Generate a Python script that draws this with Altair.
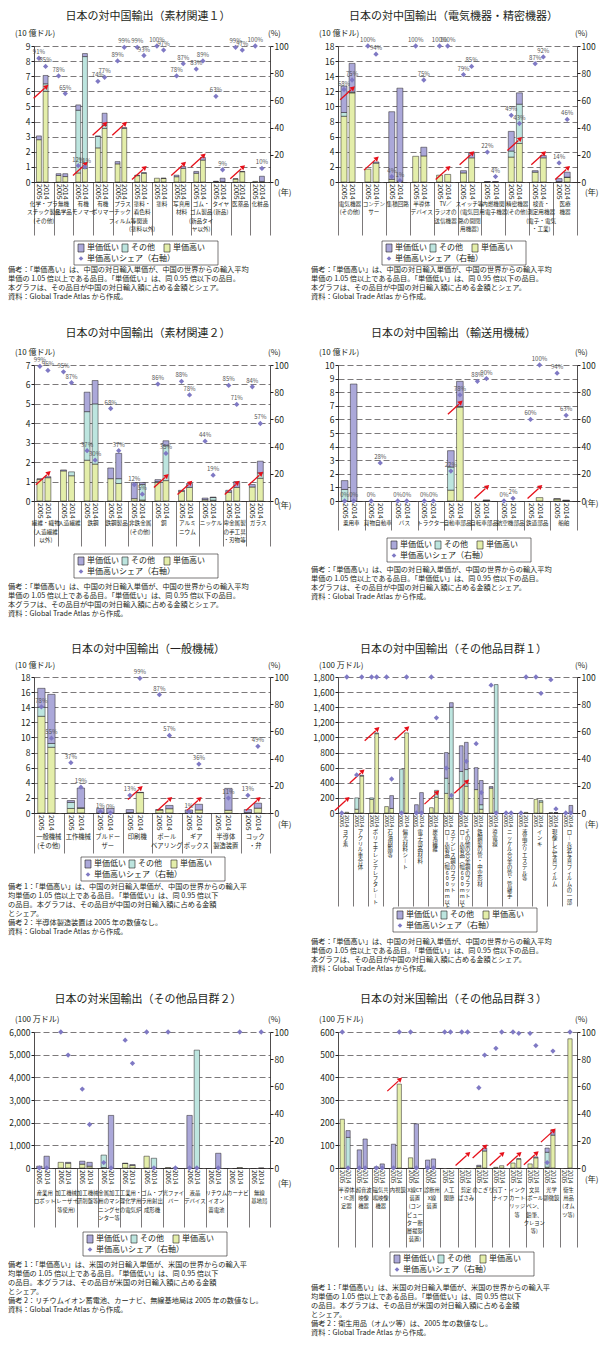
import altair as alt
import pandas as pd

FONT = "Noto Sans CJK JP"
C_HIGH, C_OTH, C_LOW = "#e4eeaa", "#bde5df", "#aba8d9"
C_PT = "#7f79c4"
C_ARR = "#e60f19"
INK = "#231f20"
YEARS = ["2005", "2014"]

# ---------------- Panel 1: 素材関連1 (10億ドル) ----------------
P1_CATS = ["化学・プラ\nスチック製品\n(その他)", "無機\n化学品", "有機\nモノマー", "有機\nポリマー", "プラス\nチック\nフィルム等",
           "塗料・\n着色料\n関連\n(塗料以外)", "塗料", "写真用\n材料", "ゴム・\nゴム製品\n(新品タイ\nヤ以外)", "タイヤ\n(新品)", "医薬品", "化粧品"]
P1_H05 = [2.8, 0.43, 0.6, 2.26, 1.2, 0.42, 0.25, 0.35, 0.58, 0.03, 0.2, 0.04]
P1_O05 = [0, 0, 4.15, 0.75, 0, 0, 0, 0, 0, 0, 0, 0]
P1_L05 = [0.25, 0.12, 0.35, 0.04, 0.15, 0.03, 0, 0.1, 0.12, 0.02, 0.01, 0]
P1_S05 = [91, 78, 12, 74, 89, 99, 100, 78, 83, 63, 99, 100]
P1_H14 = [6.0, 0.36, 0.9, 3.55, 3.55, 0.58, 0.24, 0.9, 1.45, 0.02, 0.68, 0.04]
P1_O14 = [0.5, 0, 7.4, 0.2, 0, 0, 0, 0, 0, 0, 0, 0]
P1_L14 = [0.55, 0.19, 0.2, 0.8, 0.05, 0.04, 0.01, 0.12, 0.17, 0.23, 0.02, 0.34]
P1_S14 = [85, 65, 11, 77, 99, 93, 97, 87, 89, 9, 97, 10]
P1_ARROW = [1, 0, 1, 1, 1, 1, 0, 1, 1, 0, 1, 0]

# ---------------- Panel 2: 電気機器・精密機器 (10億ドル) ----------------
P2_CATS = ["電気機器\n(その他)", "コンデン\nサー", "集積回路", "半導体\nデバイス", "TV／\nラジオの\n送信機器",
           "スイッチ等\n(電気回\n路の開閉\n用機器)", "内燃機関\n用電子機器", "精密機器\n(その他)", "検査・\n測定用機器\n(電子・電気\n・工業)", "医療\n機器"]
P2_H05 = [8.7, 1.7, 0.35, 3.4, 0.9, 1.2, 0.01, 3.3, 1.3, 0.06]
P2_O05 = [0.5, 0, 0, 0, 0, 0, 0, 0.8, 0, 0]
P2_L05 = [3.5, 0, 8.95, 0, 0, 0.3, 0.04, 2.6, 0.2, 0.39]
P2_S05 = [68, 100, 4, 100, 100, 79, 22, 49, 87, 14]
P2_H14 = [11.8, 2.5, 0.12, 3.45, 1.0, 3.2, 0.001, 5.1, 3.2, 0.6]
P2_O14 = [0.1, 0, 0, 0, 0, 0, 0, 5.2, 0, 0.05]
P2_L14 = [3.8, 0.15, 12.3, 1.15, 0, 0.6, 0.02, 1.5, 0.3, 0.65]
P2_S14 = [75, 94, 1, 75, 100, 85, 4, 43, 92, 46]
P2_ARROW = [1, 1, 0, 0, 1, 1, 0, 1, 1, 1]

# ---------------- Panel 3: 素材関連2 (10億ドル) ----------------
P3_CATS = ["繊維・織物\n(人造繊維\n以外)", "人造繊維", "鉄鋼", "鉄鋼製品", "非鉄金属\n(その他)", "銅", "アルミ\nニウム", "ニッケル",
           "卑金属製\nの手工具\n・刃物等", "ガラス"]
P3_H05 = [1.12, 1.55, 2.1, 1.15, 0.12, 0.95, 0.5, 0.07, 0.45, 0.72]
P3_O05 = [0, 0, 2.5, 0, 0, 0.05, 0, 0, 0, 0]
P3_L05 = [0.02, 0.05, 1.0, 0.55, 0.83, 0.1, 0.05, 0.08, 0.1, 0.13]
P3_S05 = [99, 95, 37, 68, 12, 86, 88, 44, 85, 84]
P3_H14 = [1.2, 1.3, 1.9, 0.9, 0.05, 1.05, 0.7, 0.04, 0.7, 1.17]
P3_O14 = [0, 0.2, 3.1, 0.25, 0.8, 1.8, 0, 0.14, 0, 0.28]
P3_L14 = [0.05, 0, 1.2, 1.3, 0.1, 0.25, 0.2, 0.02, 0.3, 0.6]
P3_S14 = [96, 87, 30, 37, 5, 35, 78, 19, 71, 57]
P3_ARROW = [1, 0, 0, 0, 0, 1, 1, 0, 1, 1]

# ---------------- Panel 4: 輸送用機械 (10億ドル) ----------------
P4_CATS = ["乗用車", "貨物自動車", "バス", "トラクター", "自動車部品", "自転車部品", "航空機部品", "鉄道部品", "船舶"]
P4_H05 = [0, 0, 0, 0, 0.8, 0, 0, 0, 0.15]
P4_O05 = [0.85, 0, 0, 0, 1.7, 0, 0, 0, 0]
P4_L05 = [0.65, 0, 0, 0, 1.2, 0, 0, 0, 0.01]
P4_S05 = [0, 0, 0, 0, 22, 88, 0, 60, 94]
P4_H14 = [0, 0, 0, 0, 6.9, 0.05, 0, 0.25, 0.04]
P4_O14 = [0, 0, 0, 0, 0.05, 0, 0, 0, 0]
P4_L14 = [8.6, 0, 0, 0, 1.85, 0.01, 0, 0, 0.02]
P4_S14 = [0, 28, 0, 0, 78, 90, 2, 100, 63]
P4_ARROW = [0, 0, 0, 0, 1, 1, 0, 1, 0]

# ---------------- Panel 5: 一般機械 (10億ドル) ----------------
P5_CATS = ["一般機械\n(その他)", "工作機械", "ブルドー\nザー", "印刷機", "ボール\nベアリング", "ギア\nボックス", "半導体\n製造装置", "コック\n・弁"]
P5_H05 = [12.8, 0.6, 0.006, 0.06, 0.39, 0.004, None, 0.06]
P5_O05 = [1.2, 0.8, 0, 0, 0, 0, None, 0]
P5_L05 = [2.5, 0.25, 0.59, 0.39, 0.06, 0.4, None, 0.39]
P5_S05 = [78, 37, 1, 13, 87, 1, None, 13]
P5_H14 = [8.7, 0.6, 0, 2.7, 0.57, 0.41, 0.36, 0.64]
P5_O14 = [0.5, 0.1, 0, 0, 0, 0, 0, 0]
P5_L14 = [6.5, 2.6, 0.6, 0.03, 0.43, 0.74, 2.9, 0.66]
P5_S14 = [55, 19, 0, 99, 57, 36, 11, 49]
P5_ARROW = [0, 0, 0, 1, 1, 1, 0, 1]

# ---------------- Panel 6: その他品目群1 (100万ドル) ----------------
P6_CATS = ["ヨウ素", "アクリル重合体", "ポリエチレンテレフタレート", "石油樹脂等", "偏光材料シート", "電子部品材料", "炭素繊維",
           "ステンレス鋼のフラット|ロール製品（幅600mm以上）", "その他の合金鋼のフラット|ロール製品（幅600mm以上）",
           "鉄鋼製の管・中空形材", "導電線", "ニッケル合金の管・管継手", "液晶ポリエステル等", "インキ", "現像した写真フィルム",
           "ロール状写真フィルムの一部"]
P6_H05 = [0, 50, 180, 85, 0, 0, 70, 260, 0, 310, 330, 0, 0, 180, 5, 0]
P6_O05 = [0, 150, 20, 0, 580, 0, 0, 200, 550, 0, 0, 0, 0, 0, 0, 0]
P6_L05 = [0, 0, 0, 0, 0, 110, 0, 340, 340, 290, 20, 0, 0, 0, 0, 0]
P6_S05 = [0, 28, 100, 100, 0, 0, 100, 33, 0, 51, 94, 0, 0, 100, 98, 0]
P6_H14 = [10, 490, 1050, 60, 1060, 0, 210, 190, 355, 50, 0, 0, 8, 145, 0.2, 0]
P6_O14 = [0, 0, 10, 0, 0, 0, 90, 1210, 220, 60, 1700, 0, 0, 20, 0, 0]
P6_L14 = [0, 10, 0, 170, 0, 270, 0, 60, 360, 320, 0, 0, 0, 0, 5, 100]
P6_S14 = [100, 100, 100, 25, 100, 0, 70, 13, 38, 15, 0, 0, 100, 88, 3, 0]
P6_ARROW = [1, 1, 1, 0, 1, 0, 1, 0, 1, 0, 0, 0, 0, 0, 0, 0]

# ---------------- Panel 7: 対米国 その他品目群2 (100万ドル) ----------------
P7_CATS = ["産業用\nロボット", "加工機械\n(レーザー\n等使用)", "加工機械\n(研削盤等)", "金属加工\n用のマシ\nニングセ\nンター等",
           "工業用・\n理化学用\nの電気炉", "ゴム・プ\nラ用射出\n成形機", "光ファイ\nバー", "液晶\nデバイス", "リチウム\nイオン\n蓄電池",
           "カーナビ", "無線\n基地局"]
P7_H05 = [0, 250, 170, 20, 200, 520, 20, 0, None, None, None]
P7_O05 = [0, 0, 0, 550, 0, 0, 0, 0, None, None, None]
P7_L05 = [80, 0, 130, 0, 10, 0, 0, 2320, None, None, None]
P7_S05 = [0, 100, 58, 4, 94, 100, 100, 0, None, None, None]
P7_H14 = [0, 210, 80, 0, 115, 0, 0, 0, 0, 20, 1]
P7_O14 = [0, 0, 0, 0, 0, 430, 0, 5200, 0, 0, 0]
P7_L14 = [520, 40, 170, 2320, 35, 0, 2, 0, 650, 0, 0]
P7_S14 = [0, 83, 32, 0, 77, 0, 0, 0, 0, 100, 100]
P7_ARROW = [0] * 11

# ---------------- Panel 8: 対米国 その他品目群3 (100万ドル) ----------------
P8_CATS = ["半導体\n・IC測\n定器", "超音波\n映像\n機器", "磁気共\n鳴映像\n機器", "内視鏡",
           "X線CT\n装置\n(コン\nピュー\nター断\n層撮影\n装置)", "診断用\nX線\n装置", "人工\n関節", "剪定\nばさみ",
           "のこぎり", "包丁・\nナイフ", "インク\nカート\nリッジ\n等", "文具\n(ボール\nペン、\n鉛筆、\nクレヨン\n等)",
           "光学\n顕微鏡", "衛生\n用品\n(オム\nツ等)"]
P8_H05 = [215, 0, 0, 0, 45, 0, 0, 0, 7, 3, 22, 18, 3.5, None]
P8_O05 = [0, 0, 0, 0, 0, 0, 0, 0, 0, 0, 0, 0, 66, None]
P8_L05 = [0, 80, 5, 105, 0, 35, 0, 0, 5, 0, 0, 0, 18.5, None]
P8_S05 = [100, 0, 0, 0, 100, 0, 100, 100, 59, 88, 100, 99, 4, None]
P8_H14 = [0, 0, 0, 370, 0, 0, 0, 0, 75, 10, 40, 45, 145, 570]
P8_O14 = [135, 0, 0, 0, 0, 0, 0, 0, 0, 0, 0, 0, 0, 0]
P8_L14 = [30, 128, 18, 0, 195, 40, 0, 0, 13, 0, 0.5, 4, 23, 0]
P8_S14 = [0, 0, 0, 100, 0, 0, 100, 100, 83, 100, 99, 90, 86, 100]
P8_ARROW = [0, 0, 0, 1, 0, 0, 0, 1, 1, 1, 1, 1, 1, 0]

# ---------------- texts ----------------
NOTE_CN = ("備考：「単価高い」は、中国の対日輸入単価が、中国の世界からの輸入平均\n"
           "　　　単価の 1.05 倍以上である品目。「単価低い」は、同 0.95 倍以下の品目。\n"
           "　　　本グラフは、その品目が中国の対日輸入額に占める金額とシェア。\n"
           "資料：Global Trade Atlas から作成。")
NOTE_P5 = ("備考 1：「単価高い」は、中国の対日輸入単価が、中国の世界からの輸入平\n"
           "　　　　均単価の 1.05 倍以上である品目。「単価低い」は、同 0.95 倍以下\n"
           "　　　　の品目。本グラフは、その品目が中国の対日輸入額に占める金額\n"
           "　　　　とシェア。\n"
           "備考 2：半導体製造装置は 2005 年の数値なし。\n"
           "資料：Global Trade Atlas から作成。")
NOTE_US = ("備考 1：「単価高い」は、米国の対日輸入単価が、米国の世界からの輸入平\n"
           "　　　　均単価の 1.05 倍以上である品目。「単価低い」は、同 0.95 倍以下\n"
           "　　　　の品目。本グラフは、その品目が米国の対日輸入額に占める金額\n"
           "　　　　とシェア。\n")
NOTE_P7 = NOTE_US + "備考 2：リチウムイオン蓄電池、カーナビ、無線基地局は 2005 年の数値なし。\n資料：Global Trade Atlas から作成。"
NOTE_P8 = NOTE_US + "備考 2：衛生用品（オムツ等）は、2005 年の数値なし。\n資料：Global Trade Atlas から作成。"

# ---------------- layout ----------------
H = 136
WL, WR = 236, 239
C05, C14, BW = 0.25, 0.59, 0.25
ONE = pd.DataFrame({"k": [0]})
VERT = {"（": "︵", "）": "︶", "ー": "︱"}
XC = f"datum.ci + (datum.yi == 0 ? {C05} : {C14})"


def txt(s, x, y, size=8.0, align="left", baseline="middle", lh=None, color=INK, **kw):
    props = dict(text=s, align=align, baseline=baseline, fontSize=size, color=color)
    if lh:
        props.update(lineBreak="\n", lineHeight=lh)
    props.update(kw)
    return alt.Chart(ONE).mark_text(**props).encode(x=alt.value(x), y=alt.value(y))


def box(x0, x1, y0, y1, fill, sw=0.6):
    return alt.Chart(ONE).mark_rect(fill=fill, stroke=INK, strokeWidth=sw).encode(
        x=alt.value(x0), x2=alt.value(x1), y=alt.value(y0), y2=alt.value(y1))


def legend(lx, ly):
    out = [box(lx, lx + 144, ly, ly + 24, "white")]
    r1, r2 = ly + 7, ly + 17.5
    for lab, col, dx in [("単価低い", C_LOW, 4), ("その他", C_OTH, 48), ("単価高い", C_HIGH, 90)]:
        out.append(box(lx + dx, lx + dx + 6, r1 - 4, r1 + 4, col))
        out.append(txt(lab, lx + dx + 9, r1, size=8))
    out.append(alt.Chart(ONE).mark_point(shape="diamond", filled=True, size=22, color=C_PT, opacity=1).encode(
        x=alt.value(lx + 7), y=alt.value(r2)))
    out.append(txt("単価高いシェア（右軸）", lx + 13, r2, size=8))
    return out


def make_panel(cfg):
    cats = cfg["cats"]
    n = len(cats)
    W = cfg["W"]
    ymax = cfg["ymax"]
    series = [(cfg["h05"], cfg["o05"], cfg["l05"], cfg["s05"]),
              (cfg["h14"], cfg["o14"], cfg["l14"], cfg["s14"])]
    bar_rows, pt_rows, yr_rows, cat_rows, arr_rows = [], [], [], [], []
    for i in range(n):
        for yi, (hh, oo, ll, ss) in enumerate(series):
            yr_rows.append(dict(ci=i, yi=yi, yr=YEARS[yi]))
            for seg, arr in enumerate((hh, oo, ll)):
                v = arr[i]
                if v is not None and v > 0:
                    bar_rows.append(dict(ci=i, yi=yi, seg=seg, value=v))
            if ss[i] is not None:
                pt_rows.append(dict(ci=i, yi=yi, share=ss[i]))
        if cfg["arrow"][i]:
            arr_rows.append(dict(ci=i, yi=1, h=cfg["h14"][i] or 0))
        if cfg.get("vertical"):
            cols = cats[i].split("|")
            m = len(cols)
            for k, col in enumerate(cols):
                s = "\n".join(VERT.get(c, c) for c in col)
                cat_rows.append(dict(ci=i, dx=(m - 1 - 2 * k) * 0.19, label=s))
        else:
            cat_rows.append(dict(ci=i, dx=0.0, label=cats[i]))

    xs = alt.Scale(domain=[0, n], nice=False, zero=False)
    xax = alt.Axis(values=list(range(n + 1)), labels=False, tickSize=cfg["tick"], tickColor=INK, tickWidth=0.6,
                   domainColor=INK, domainWidth=0.8, grid=False, title=None)

    def ysc():
        return alt.Scale(domain=[0, ymax], nice=False)

    yax = alt.Axis(values=list(range(0, ymax + 1, cfg["step"])), format=",d", grid=True, gridDash=[6, 3],
                   gridColor=INK, gridWidth=0.6, tickSize=3, tickColor=INK, domainColor=INK, domainWidth=0.8,
                   labelFontSize=8.5, labelPadding=1, labelColor=INK, title=None)
    rax = alt.Axis(orient="right", values=[0, 20, 40, 60, 80, 100], grid=False, tickSize=3, tickColor=INK,
                   domainColor=INK, domainWidth=0.8, labelFontSize=8.5, labelPadding=1, labelColor=INK, title=None)

    def rsc():
        return alt.Scale(domain=[0, 100], nice=False)

    bars = alt.Chart(pd.DataFrame(bar_rows)).transform_calculate(xc=XC).transform_calculate(
        xa=f"datum.xc - {BW / 2}", xb=f"datum.xc + {BW / 2}"
    ).transform_stack(
        as_=["v0", "v1"], stack="value", groupby=["ci", "yi"], sort=[alt.SortField(field="seg", order="ascending")]
    ).mark_bar(stroke=INK, strokeWidth=0.5).encode(
        x=alt.X("xa:Q", scale=xs, axis=xax), x2="xb:Q",
        y=alt.Y("v0:Q", scale=ysc(), axis=yax), y2="v1:Q",
        fill=alt.Fill("seg:N", scale=alt.Scale(domain=[0, 1, 2], range=[C_HIGH, C_OTH, C_LOW]), legend=None),
    )
    layers = [bars]

    if arr_rows:
        adf = pd.DataFrame(arr_rows)
        base = alt.Chart(adf).transform_calculate(xc=XC, ya=f"max(datum.h, {ymax * 0.07})")
        layers.append(base.mark_rule(color=C_ARR, strokeWidth=1.3, xOffset=-12, yOffset=7, x2Offset=-1,
                                     y2Offset=-3).encode(
            x=alt.X("xc:Q", scale=xs, axis=xax), x2="xc:Q",
            y=alt.Y("ya:Q", scale=ysc(), axis=None), y2="ya:Q"))
        layers.append(base.mark_point(shape="triangle-up", filled=True, size=30, angle=48, color=C_ARR, opacity=1,
                                      xOffset=1, yOffset=-5).encode(
            x=alt.X("xc:Q", scale=xs, axis=xax), y=alt.Y("ya:Q", scale=ysc(), axis=None)))

    pdf = pd.DataFrame(pt_rows)
    pbase = alt.Chart(pdf).transform_calculate(xc=XC, lab="datum.share + '%'")
    layers.append(pbase.mark_point(shape="diamond", filled=True, size=28, color=C_PT, opacity=1).encode(
        x=alt.X("xc:Q", scale=xs, axis=xax), y=alt.Y("share:Q", scale=rsc(), axis=rax)))
    if cfg.get("labels"):
        layers.append(pbase.mark_text(dy=-6, fontSize=6, color="#555555").encode(
            x=alt.X("xc:Q", scale=xs, axis=xax), y=alt.Y("share:Q", scale=rsc(), axis=None), text="lab:N"))

    layers.append(alt.Chart(pd.DataFrame(yr_rows)).transform_calculate(xc=XC).mark_text(
        angle=90, align="left", baseline="middle", fontSize=cfg["yr_fs"], color=INK).encode(
        x=alt.X("xc:Q", scale=xs, axis=xax), y=alt.value(H + 2), text="yr:N"))

    layers.append(alt.Chart(pd.DataFrame(cat_rows)).transform_calculate(xm="datum.ci + 0.5 + datum.dx").mark_text(
        align="center", baseline="top", fontSize=cfg["cat_fs"], lineHeight=cfg["cat_lh"], lineBreak="\n",
        color=INK).encode(
        x=alt.X("xm:Q", scale=xs, axis=xax), y=alt.value(cfg["cat_y"]), text="label:N"))

    # titles, units, legend, notes
    layers.append(txt(cfg["title"], W / 2 - 4, cfg["title_y"], size=11, align="center"))
    layers.append(txt(cfg["unit"], -19, cfg["unit_y"], size=8))
    layers.append(txt("(%)", W - 2, cfg["unit_y"], size=8))
    layers.append(txt("(年)", W + 8, cfg["nen_y"], size=8))
    layers += legend(cfg["leg_x"], cfg["leg_y"])
    layers.append(txt(cfg["notes"], cfg["note_x"], cfg["note_y"], size=7.2, baseline="top", lh=9))

    return alt.layer(*layers).resolve_scale(y="independent").properties(width=W, height=H)


def cfg_of(prefix, **kw):
    g = globals()
    d = dict(cats=g[prefix + "_CATS"], h05=g[prefix + "_H05"], o05=g[prefix + "_O05"], l05=g[prefix + "_L05"],
             s05=g[prefix + "_S05"], h14=g[prefix + "_H14"], o14=g[prefix + "_O14"], l14=g[prefix + "_L14"],
             s14=g[prefix + "_S14"], arrow=g[prefix + "_ARROW"])
    d.update(kw)
    return d


U10 = "(10 億ドル)"
U100 = "(100 万ドル)"
p1 = make_panel(cfg_of("P1", W=WL, ymax=9, step=1, tick=53, cat_y=156, cat_fs=5.6, cat_lh=8.3, yr_fs=7,
                       labels=True, title="日本の対中国輸出（素材関連１）", unit=U10, title_y=-29, unit_y=-12,
                       nen_y=147, leg_x=40, leg_y=195, notes=NOTE_CN, note_x=-26, note_y=220))
p2 = make_panel(cfg_of("P2", W=WR, ymax=18, step=2, tick=53, cat_y=156, cat_fs=5.6, cat_lh=8.3, yr_fs=7,
                       labels=True, title="日本の対中国輸出（電気機器・精密機器）", unit=U10, title_y=-29, unit_y=-12,
                       nen_y=147, leg_x=44, leg_y=195, notes=NOTE_CN, note_x=-27, note_y=220))
p3 = make_panel(cfg_of("P3", W=WL, ymax=7, step=1, tick=45, cat_y=156, cat_fs=5.6, cat_lh=8.5, yr_fs=7,
                       labels=True, title="日本の対中国輸出（素材関連２）", unit=U10, title_y=-31, unit_y=-12,
                       nen_y=141, leg_x=40, leg_y=189, notes=NOTE_CN, note_x=-26, note_y=218))
p4 = make_panel(cfg_of("P4", W=WR, ymax=10, step=1, tick=29, cat_y=156, cat_fs=5.6, cat_lh=8.3, yr_fs=7,
                       labels=True, title="日本の対中国輸出（輸送用機械）", unit=U10, title_y=-31, unit_y=-12,
                       nen_y=139, leg_x=49, leg_y=173, notes=NOTE_CN, note_x=-27, note_y=201))
p5 = make_panel(cfg_of("P5", W=WL, ymax=18, step=2, tick=40, cat_y=157, cat_fs=6.3, cat_lh=8.5, yr_fs=7,
                       labels=True, title="日本の対中国輸出（一般機械）", unit=U10, title_y=-27, unit_y=-11,
                       nen_y=148, leg_x=47, leg_y=180, notes=NOTE_P5, note_x=-26, note_y=206))
p6 = make_panel(cfg_of("P6", W=WR, ymax=1800, step=200, tick=93, cat_y=153, cat_fs=5.4, cat_lh=5.8, yr_fs=5.5,
                       vertical=True, labels=False, title="日本の対中国輸出（その他品目群１）", unit=U100,
                       title_y=-27, unit_y=-11, nen_y=148, leg_x=55, leg_y=231, notes=NOTE_CN, note_x=-27,
                       note_y=261))
p7 = make_panel(cfg_of("P7", W=WL, ymax=6000, step=1000, tick=59, cat_y=159, cat_fs=5.4, cat_lh=8.3, yr_fs=6.5,
                       labels=False, title="日本の対米国輸出（その他品目群２）", unit=U100, title_y=-32, unit_y=-12,
                       nen_y=152, leg_x=49, leg_y=200, notes=NOTE_P7, note_x=-26, note_y=229))
p8 = make_panel(cfg_of("P8", W=WR, ymax=600, step=100, tick=79, cat_y=156, cat_fs=5.3, cat_lh=8.2, yr_fs=6,
                       labels=False, title="日本の対米国輸出（その他品目群３）", unit=U100, title_y=-32, unit_y=-12,
                       nen_y=148, leg_x=52, leg_y=220, notes=NOTE_P8, note_x=-27, note_y=252))


def spacer(h):
    return alt.Chart(ONE).mark_point(opacity=0).encode(x=alt.value(0), y=alt.value(0)).properties(width=1, height=h)


grid = [p1, p2, spacer(183), spacer(183), p3, p4, spacer(176), spacer(176), p5, p6, spacer(219), spacer(219), p7, p8]
chart = alt.concat(*grid, columns=2, spacing={"row": 0, "column": 68}, bounds="flush", align="each").properties(
    padding={"top": 3, "left": 0, "right": 0, "bottom": 0}
).configure(font=FONT).configure_view(stroke=None)

chart.save("out.html", embed_options={"renderer": "svg", "actions": False})
